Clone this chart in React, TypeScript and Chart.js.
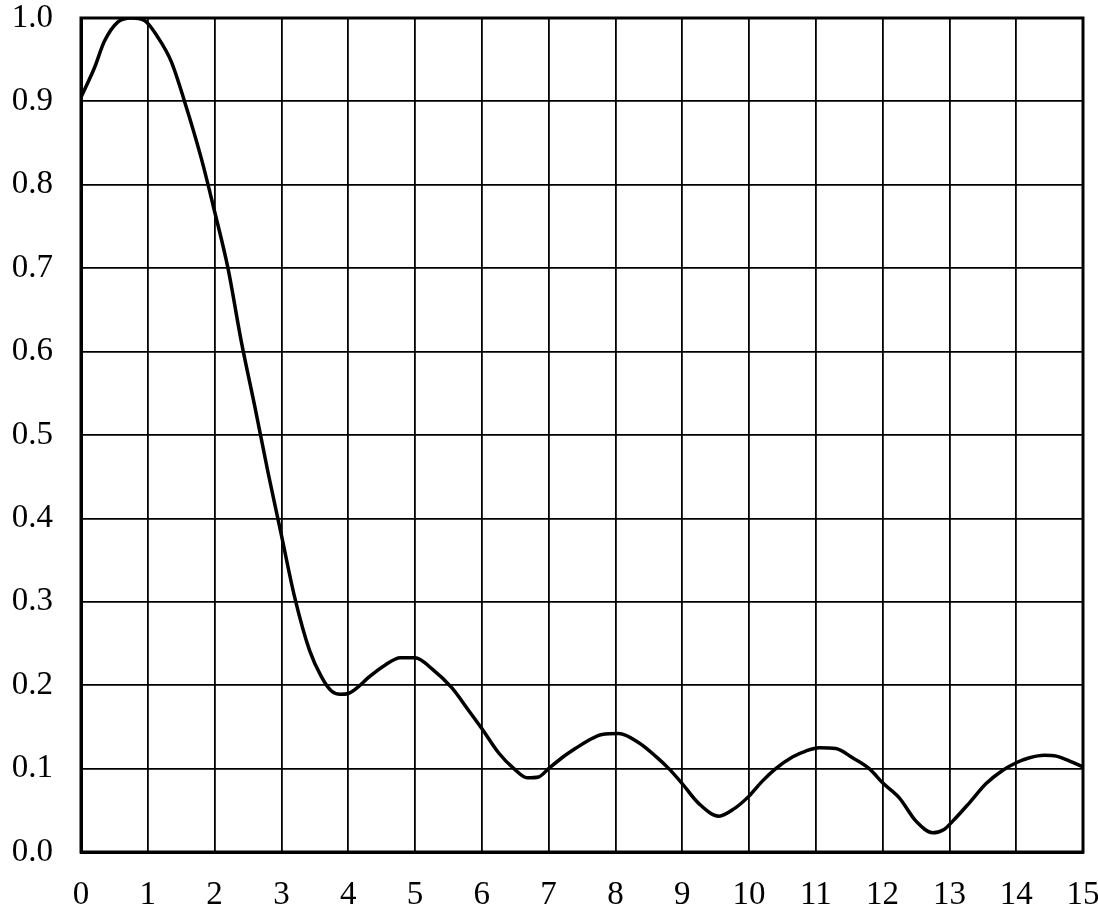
import React, { useEffect, useRef } from "react";
import { Chart, registerables } from "chart.js";

Chart.register(...registerables);

const xValues: number[] = [
  0, 0.2, 0.35, 0.55, 0.75, 0.95, 1.15, 1.35, 1.55, 1.8, 2.0, 2.2, 2.4, 2.6, 2.8, 3.0, 3.2,
  3.42, 3.6, 3.75, 3.88, 4.0, 4.15, 4.3, 4.55, 4.78, 5.0, 5.25, 5.55, 5.8, 6.0, 6.25, 6.48, 6.68, 6.85,
  7.0, 7.2, 7.4, 7.6, 7.8, 8.05, 8.35, 8.6, 8.8, 9.0, 9.25, 9.55, 9.78, 10.0, 10.2, 10.4, 10.65, 10.85,
  11.05, 11.3, 11.55, 11.8, 12.0, 12.25, 12.5, 12.75, 12.92, 13.05, 13.3, 13.55, 13.8, 14.0, 14.2, 14.42,
  14.6, 14.8, 15.0,
];

const yValues: number[] = [
  0.905, 0.94, 0.972, 0.995, 1.0, 0.997, 0.977, 0.948, 0.9, 0.832, 0.768, 0.7, 0.612, 0.535, 0.455,
  0.38, 0.305, 0.242, 0.21, 0.193, 0.189, 0.19, 0.198, 0.209, 0.224, 0.233, 0.233, 0.22, 0.197, 0.17,
  0.148, 0.119, 0.1, 0.089, 0.09, 0.1, 0.113, 0.124, 0.134, 0.141, 0.142, 0.131, 0.115, 0.1, 0.082,
  0.058, 0.043, 0.052, 0.067, 0.085, 0.1, 0.114, 0.121, 0.125, 0.124, 0.113, 0.1, 0.083, 0.065, 0.037,
  0.023, 0.027, 0.037, 0.059, 0.082, 0.098, 0.107, 0.113, 0.116, 0.115, 0.109, 0.102,
];

const xTicks: string[] = ["0", "1", "2", "3", "4", "5", "6", "7", "8", "9", "10", "11", "12", "13", "14", "15"];
const yTicks: string[] = ["0.0", "0.1", "0.2", "0.3", "0.4", "0.5", "0.6", "0.7", "0.8", "0.9", "1.0"];

const frame = {
  id: "frame",
  afterDatasetsDraw(chart: any) {
    const { ctx, chartArea } = chart;
    ctx.save();
    ctx.strokeStyle = "#000";
    ctx.lineWidth = 3;
    ctx.strokeRect(chartArea.left, chartArea.top, chartArea.right - chartArea.left, chartArea.bottom - chartArea.top);
    ctx.restore();
  },
};

const zeroPad = (s: any) => {
  s.paddingTop = 0;
  s.paddingBottom = 0;
  s.paddingLeft = 0;
  s.paddingRight = 0;
};

export default function App() {
  const ref = useRef<HTMLCanvasElement | null>(null);

  useEffect(() => {
    if (!ref.current) return;
    const data = xValues.map((x, i) => ({ x, y: yValues[i] }));
    const font = { family: "'Liberation Serif', 'Times New Roman', serif", size: 33 };
    const chart = new Chart(ref.current, {
      type: "line",
      data: {
        datasets: [
          {
            data,
            borderColor: "#000",
            borderWidth: 3.5,
            pointRadius: 0,
            fill: false,
            cubicInterpolationMode: "monotone",
          },
        ],
      },
      options: {
        animation: false,
        responsive: false,
        maintainAspectRatio: false,
        layout: { padding: { top: 18, right: 15, left: 0, bottom: 0 } },
        plugins: { legend: { display: false }, tooltip: { enabled: false } },
        scales: {
          x: {
            type: "linear",
            min: 0,
            max: 15,
            afterFit: (s: any) => {
              s.height = 63;
              zeroPad(s);
            },
            afterBuildTicks: (s: any) => {
              s.ticks = xTicks.map((t) => ({ value: Number(t) }));
            },
            ticks: {
              font,
              color: "#000",
              padding: 24,
              maxRotation: 0,
              autoSkip: false,
              callback: (v: any, i: number) => xTicks[i],
            },
            grid: { color: "#000", lineWidth: 1.8, drawTicks: false },
            border: { color: "#000", width: 3 },
          },
          y: {
            type: "linear",
            min: 0,
            max: 1,
            afterFit: (s: any) => {
              s.width = 81;
              zeroPad(s);
            },
            afterBuildTicks: (s: any) => {
              s.ticks = yTicks.map((t) => ({ value: Number(t) }));
            },
            ticks: {
              font,
              color: "#000",
              padding: 28,
              autoSkip: false,
              callback: (v: any, i: number) => yTicks[i],
            },
            grid: { color: "#000", lineWidth: 1.8, drawTicks: false },
            border: { color: "#000", width: 3 },
          },
        },
      },
      plugins: [frame],
    });
    return () => chart.destroy();
  }, []);

  return (
    <div style={{ position: "fixed", left: 0, top: 0, width: 1098, height: 915, background: "#fff" }}>
      <canvas ref={ref} width={1098} height={915} style={{ width: 1098, height: 915 }} />
    </div>
  );
}
